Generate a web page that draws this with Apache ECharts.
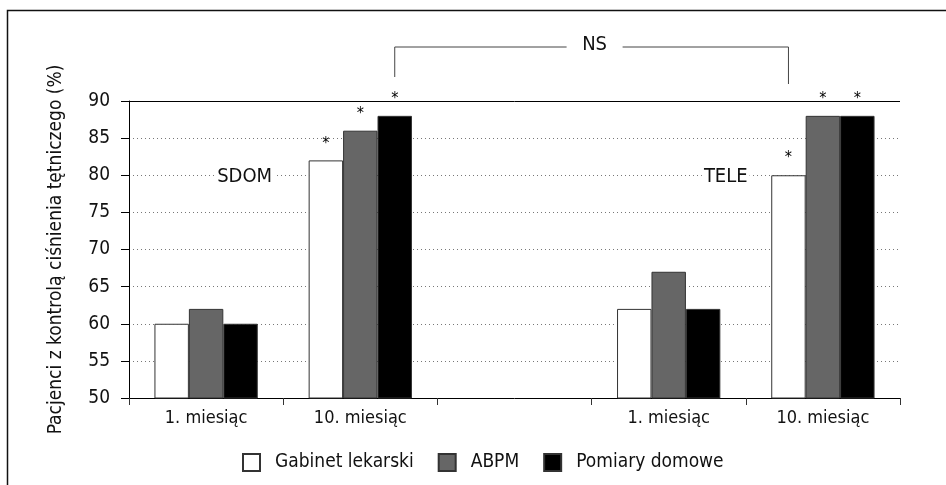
<!DOCTYPE html>
<html>
<head>
<meta charset="utf-8">
<script src="https://cdn.jsdelivr.net/npm/echarts@6/dist/echarts.min.js"></script>
<style>
html,body{margin:0;padding:0;background:#fff;}
#main{width:946px;height:485px;}
</style>
</head>
<body>
<div id="main"></div>
<script>
const categories = ['1. miesiąc', '10. miesiąc', '', '1. miesiąc', '10. miesiąc'];
const seriesNames = ['Gabinet lekarski', 'ABPM', 'Pomiary domowe'];
const gabinet = [60, 82, null, 62, 80];
const abpm = [62, 86, null, 67, 88];
const pomiary = [60, 88, null, 62, 88];
const gabinetStar = [false, true, false, false, true];
const abpmStar = [false, true, false, false, true];
const pomiaryStar = [false, true, false, false, true];
const yTicks = { min: 50, max: 90, interval: 5 };
const groupLabels = ['SDOM', 'TELE'];
const yTitle = 'Pacjenci z kontrolą ciśnienia tętniczego (%)';

const FONT = '"Liberation Sans Narrow", "DejaVu Sans Condensed", "Liberation Sans", sans-serif';
const colors = ['#ffffff', '#666666', '#000000'];

function mkSeries(name, data, stars, color, idx) {
  const s = {
    name: name,
    type: 'bar',
    data: data,
    barGap: '0%',
    barCategoryGap: '33%',
    itemStyle: { color: color, borderColor: '#333', borderWidth: 1 },
    label: {
      show: true,
      position: 'top',
      distance: 9,
      fontFamily: FONT,
      fontSize: 16,
      color: '#000',
      formatter: p => (stars[p.dataIndex] ? '*' : '')
    },
    emphasis: { disabled: true },
    silent: true
  };
  if (idx === 0) {
    s.markLine = {
      silent: true,
      symbol: 'none',
      label: { show: false },
      lineStyle: { color: '#000', type: 'solid', width: 1 },
      data: [{ yAxis: yTicks.max }]
    };
  }
  return s;
}

const dom = document.getElementById('main');
const chart = echarts.init(dom, null, { renderer: 'canvas' });
const option = {
  animation: false,
  backgroundColor: '#fff',
  textStyle: { fontFamily: FONT },
  grid: { left: 129, right: 46, top: 101, bottom: 87, containLabel: false },
  legend: {
    bottom: 8,
    left: 237,
    icon: 'rect',
    itemWidth: 17,
    itemHeight: 17,
    itemGap: 24,
    selectedMode: false,
    textStyle: { fontFamily: FONT, fontSize: 19, color: '#111', padding: [0, 0, 0, 10] },
    data: seriesNames
  },
  xAxis: {
    type: 'category',
    data: categories,
    axisLine: { lineStyle: { color: '#000', width: 1 } },
    axisTick: { show: true, length: 7, lineStyle: { color: '#333' } },
    axisLabel: { fontFamily: FONT, fontSize: 18, color: '#111', margin: 11 }
  },
  yAxis: {
    type: 'value',
    min: yTicks.min,
    max: yTicks.max,
    interval: yTicks.interval,
    name: yTitle,
    nameLocation: 'middle',
    nameGap: 63,
    nameTextStyle: { fontFamily: FONT, fontSize: 19, color: '#111' },
    axisLine: { show: true, lineStyle: { color: '#000', width: 1 } },
    axisTick: { show: true, length: 8, lineStyle: { color: '#000' } },
    axisLabel: { fontFamily: FONT, fontSize: 19, color: '#111', margin: 19 },
    splitLine: { show: true, lineStyle: { color: '#777', type: [1, 3], width: 1 } }
  },
  series: [
    mkSeries(seriesNames[0], gabinet, gabinetStar, colors[0], 0),
    mkSeries(seriesNames[1], abpm, abpmStar, colors[1], 1),
    mkSeries(seriesNames[2], pomiary, pomiaryStar, colors[2], 2)
  ]
};
chart.setOption(option);

function addAnnotations() {
  const cx = i => chart.convertToPixel({ xAxisIndex: 0 }, i);
  const cy = v => chart.convertToPixel({ yAxisIndex: 0 }, v);
  const band = cx(1) - cx(0);
  const bw = band * 0.67 / 3;
  const xL = cx(1) + bw;
  const xR = cx(4) - bw;
  const yTop = cy(yTicks.max);
  const yH = yTop - 54;
  const yLb = yTop - 24;
  const yRb = yTop - 17;
  const nsX = (xL + xR) / 2 + 3;
  const gapHalf = 28;
  const lineStyle = { stroke: '#444', lineWidth: 1, fill: null };
  const y80 = cy(80);
  chart.setOption({
    graphic: [
      { type: 'rect', shape: { x: 7.5, y: 10.5, width: 1000, height: 600 }, style: { fill: null, stroke: '#111', lineWidth: 1.5 }, silent: true },
      { type: 'polyline', shape: { points: [[xL, yLb], [xL, yH], [nsX - gapHalf, yH]] }, style: lineStyle, silent: true },
      { type: 'polyline', shape: { points: [[nsX + gapHalf, yH], [xR, yH], [xR, yRb]] }, style: lineStyle, silent: true },
      { type: 'text', x: nsX, y: yH - 2, style: { text: 'NS', font: '20px ' + FONT, fill: '#111', textAlign: 'center', textVerticalAlign: 'middle' }, silent: true },
      { type: 'text', x: cx(0) + band * 0.25, y: y80 + 2, style: { text: groupLabels[0], font: '20px ' + FONT, fill: '#111', backgroundColor: '#fff', padding: [0, 2], textAlign: 'center', textVerticalAlign: 'middle' }, silent: true },
      { type: 'text', x: cx(3) + band * 0.37, y: y80 + 2, style: { text: groupLabels[1], font: '20px ' + FONT, fill: '#111', backgroundColor: '#fff', padding: [0, 2], textAlign: 'center', textVerticalAlign: 'middle' }, silent: true }
    ]
  });
}
addAnnotations();
</script>
</body>
</html>
